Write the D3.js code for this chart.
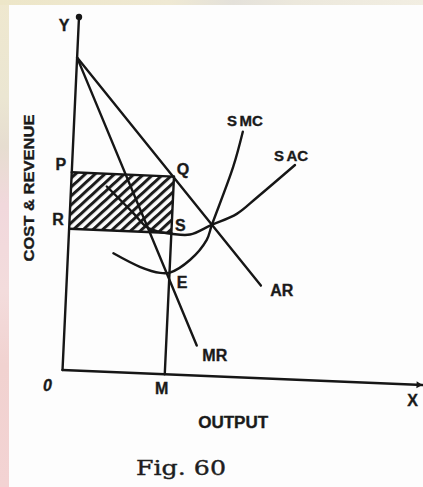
<!DOCTYPE html>
<html>
<head>
<meta charset="utf-8">
<script src="https://cdn.jsdelivr.net/npm/d3@7"></script>
<style>
  html, body { margin: 0; padding: 0; background: #fdfdfd; }
  svg { display: block; }
  .lbl { font-family: "Liberation Sans", Arial, Helvetica, sans-serif; font-weight: bold; fill: #1a1a1a; stroke: #1a1a1a; stroke-width: 0.35px; }
</style>
</head>
<body>
<div id="chart"></div>
<script>
// ---------- data (economic units) ----------
const axisMax = [10, 10];                 // x (output), y (cost & revenue)
const demandIntercept = 8.85;             // where AR and MR start on the Y axis
const arLine = [[0, 8.85], [5.39, 2.62]]; // average revenue
const mrLine = [[0, 8.85], [3.69, 0.85]]; // marginal revenue
const outputM = 2.84;                     // equilibrium output OM
const priceP = 5.6;                       // OP = MQ
const costR = 4.0;                        // OR = MS
const pointE = [2.84, 2.87];              // MC = MR
const sacCurve = [[0.99, 5.24], [1.76, 4.52], [2.15, 4.14], [2.5, 4.02], [2.84, 3.98],
                  [3.36, 3.98], [3.93, 4.27], [4.63, 4.62], [5.16, 5.1], [6.18, 6.07]];
const smcCurve = [[1.26, 3.36], [2.01, 3.01], [2.58, 2.86], [2.85, 2.88], [3.39, 3.26],
                  [3.83, 3.85], [3.95, 4.27], [4.47, 5.95], [4.69, 6.95]];
const axisLabels = ["Y", "X", "0", "M", "OUTPUT", "COST & REVENUE"];
const pointLabels = ["P", "R", "Q", "S", "E", "AR", "MR", "SMC", "SAC"];
const caption = "Fig. 60";

// ---------- layout ----------
const width = 423, height = 487;
const W = 360, H = 353;
// the printed figure is slightly skewed: affine frame
const frame = { a: 1, b: 0.0417, c: -0.0467, d: 1, e: 79, f: 17 };

const x = d3.scaleLinear().domain([0, axisMax[0]]).range([0, W]);
const y = d3.scaleLinear().domain([0, axisMax[1]]).range([H, 0]);
const toScreen = (px, py) => {
  const lx = x(px), ly = y(py);
  return [frame.a * lx + frame.c * ly + frame.e, frame.b * lx + frame.d * ly + frame.f];
};

const svg = d3.select("#chart").append("svg")
  .attr("width", width).attr("height", height);

const defs = svg.append("defs");
const lg = defs.append("linearGradient").attr("id", "leftEdge")
  .attr("x1", 0).attr("y1", 0).attr("x2", 0).attr("y2", 1);
[["0", "#efe8cf"], ["0.2", "#ebe6d2"], ["0.3", "#e6ddd0"], ["0.42", "#f1d8dc"],
 ["0.6", "#f3dcdc"], ["0.75", "#f1d2d0"], ["1", "#f3d3d3"]]
  .forEach(([o, c]) => lg.append("stop").attr("offset", o).attr("stop-color", c));
const tg = defs.append("linearGradient").attr("id", "topEdge")
  .attr("x1", 0).attr("y1", 0).attr("x2", 1).attr("y2", 0);
[["0", "#ede6c8"], ["0.4", "#efe9d3"], ["0.55", "#e4e1da"], ["0.7", "#ece8dc"], ["1", "#f2eee2"]]
  .forEach(([o, c]) => tg.append("stop").attr("offset", o).attr("stop-color", c));

const pat = defs.append("pattern").attr("id", "hatch")
  .attr("patternUnits", "userSpaceOnUse")
  .attr("width", 6.6).attr("height", 10)
  .attr("patternTransform", "rotate(45)");
pat.append("rect").attr("x", 0).attr("y", 0).attr("width", 3).attr("height", 10)
  .attr("fill", "#1c1c1c");

// background
svg.append("rect").attr("width", width).attr("height", height).attr("fill", "#fdfdfd");
svg.append("rect").attr("x", 0).attr("y", 0).attr("width", 9).attr("height", height).attr("fill", "url(#leftEdge)");
svg.append("rect").attr("x", 0).attr("y", 0).attr("width", width).attr("height", 5).attr("fill", "url(#topEdge)");

const g = svg.append("g")
  .attr("transform", `matrix(${frame.a},${frame.b},${frame.c},${frame.d},${frame.e},${frame.f})`);

const ink = "#161616";
const sw = 2.4;

// hatched profit rectangle PQSR
g.append("rect")
  .attr("x", x(0)).attr("y", y(priceP))
  .attr("width", x(outputM) - x(0)).attr("height", y(costR) - y(priceP))
  .attr("fill", "url(#hatch)");

const line = d3.line().x(d => x(d[0])).y(d => y(d[1]));
const curve = d3.line().x(d => x(d[0])).y(d => y(d[1])).curve(d3.curveCatmullRom.alpha(0.5));

const stroke = sel => sel.attr("fill", "none").attr("stroke", ink)
  .attr("stroke-width", sw).attr("stroke-linecap", "round").attr("stroke-linejoin", "round");

// axes
g.append("path").attr("d", line([[0, 0], [0, axisMax[1]]])).call(stroke);
g.append("path").attr("d", line([[0, 0], [axisMax[0], 0]])).call(stroke);
g.append("circle").attr("cx", x(0)).attr("cy", y(axisMax[1])).attr("r", 3.2).attr("fill", ink);
g.append("path")
  .attr("d", `M${x(axisMax[0]) - 6},${y(0) - 3.5}L${x(axisMax[0])},${y(0)}L${x(axisMax[0]) - 6},${y(0) + 3.5}Z`)
  .attr("fill", ink);

// rectangle edges and QM
g.append("path").attr("d", line([[0, priceP], [outputM, priceP]])).call(stroke);
g.append("path").attr("d", line([[0, costR], [outputM, costR]])).call(stroke);
g.append("path").attr("d", line([[outputM, priceP], [outputM, 0]])).call(stroke);

// revenue lines
g.append("path").attr("d", line(arLine)).call(stroke);
g.append("path").attr("d", line(mrLine)).call(stroke);

// cost curves
g.append("path").attr("d", curve(sacCurve)).call(stroke);
g.append("path").attr("d", curve(smcCurve)).call(stroke);

// ---------- labels ----------
const label = (txt, pt, dx, dy, size, extra) => {
  const [sx, sy] = toScreen(pt[0], pt[1]);
  const t = svg.append("text").attr("class", "lbl")
    .attr("x", sx + dx).attr("y", sy + dy)
    .attr("text-anchor", "middle").attr("dominant-baseline", "central")
    .attr("font-size", size).text(txt);
  if (extra) extra(t);
  return t;
};
// label with the leading "S" slightly detached, as printed
const splitLabel = (txt, pt, dx, dy, size) => {
  const t = label("", pt, dx, dy, size);
  t.append("tspan").text(txt.slice(0, 1));
  t.append("tspan").attr("dx", 2.5).text(txt.slice(1));
  return t;
};

label(axisLabels[0], [0, axisMax[1]], -15, 8, 16);
label(axisLabels[1], [axisMax[0], 0], -10, 15, 16);
label(axisLabels[2], [0, 0], -15, 15, 16, t => t.attr("font-style", "italic"));
label(axisLabels[3], [outputM, 0], -3, 14, 16);
label(axisLabels[4], [outputM + 1.9, 0], 0, 45, 16, t => t.attr("textLength", 70).attr("lengthAdjust", "spacingAndGlyphs"));

label(pointLabels[0], [0, priceP], -11, -8, 16);
label(pointLabels[1], [0, costR], -11, -9, 16);
label(pointLabels[2], [outputM, priceP], 9, -7, 16);
label(pointLabels[3], [outputM, costR], 9, -8, 16);
label(pointLabels[4], pointE, 12.5, 10, 16);
label(pointLabels[5], arLine[1], 21, 5, 16);
label(pointLabels[6], mrLine[1], 18, 10, 16);
splitLabel(pointLabels[7], smcCurve[smcCurve.length - 1], 2, -12, 15);
splitLabel(pointLabels[8], sacCurve[sacCurve.length - 1], -4, -10, 15);

// y axis title
svg.append("text").attr("class", "lbl")
  .attr("transform", "translate(28,188) rotate(-90)")
  .attr("text-anchor", "middle").attr("dominant-baseline", "central")
  .attr("font-size", 15)
  .attr("textLength", 147).attr("lengthAdjust", "spacingAndGlyphs")
  .text(axisLabels[5]);

// caption
svg.append("text")
  .attr("x", 181).attr("y", 475)
  .attr("text-anchor", "middle")
  .attr("font-family", "'DejaVu Serif', 'Liberation Serif', serif")
  .attr("font-size", 21).attr("fill", "#1e1e1e")
  .attr("stroke", "#1e1e1e").attr("stroke-width", 0.4)
  .attr("textLength", 90).attr("lengthAdjust", "spacingAndGlyphs")
  .text(caption);
</script>
</body>
</html>
